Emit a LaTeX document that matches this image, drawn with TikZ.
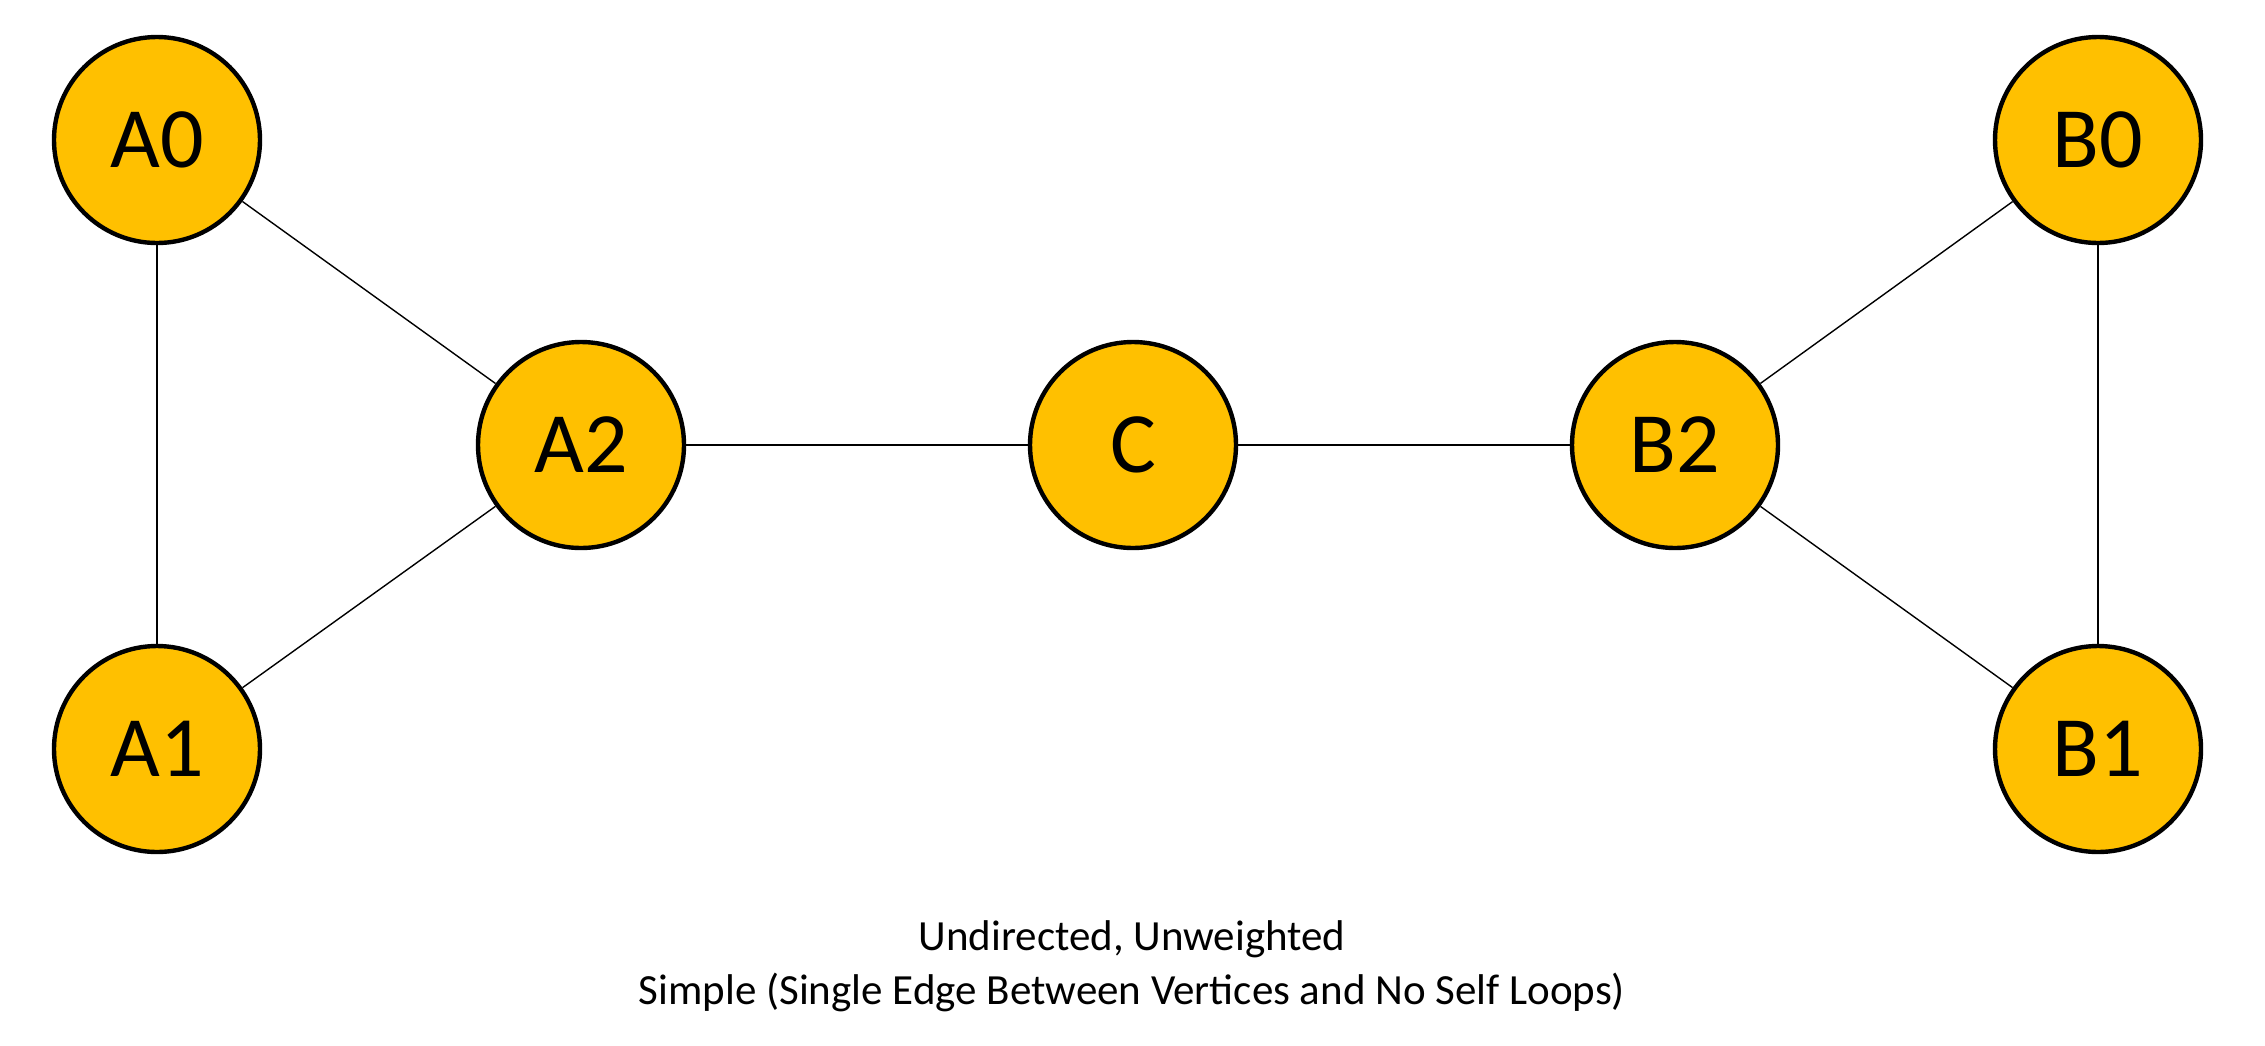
\documentclass[tikz,border=0pt]{standalone}
\usepackage{fontspec}
\setmainfont{Carlito}
\definecolor{gold}{HTML}{FFC000}
\begin{document}
\begin{tikzpicture}[x=0.5pt,y=-0.5pt,
  vertex/.style={circle,draw=black,fill=gold,line width=2.2pt,minimum size=103pt,inner sep=0pt,
    font=\fontsize{43pt}{50pt}\selectfont},
  edge/.style={line width=0.7pt,black},
  caption/.style={font=\fontsize{21.5pt}{27pt}\selectfont,align=center}]
\useasboundingbox (0,0) rectangle (2265,1045);
\node[vertex] (A0) at (157,140) {A0};
\node[vertex] (A1) at (157,749) {A1};
\node[vertex] (A2) at (581,445) {A2};
\node[vertex] (C) at (1133,445) {C};
\node[vertex] (B2) at (1675,445) {B2};
\node[vertex] (B0) at (2098,140) {B0};
\node[vertex] (B1) at (2098,749) {B1};
\draw[edge] (A0) -- (A1);
\draw[edge] (A0) -- (A2);
\draw[edge] (A1) -- (A2);
\draw[edge] (A2) -- (C);
\draw[edge] (C) -- (B2);
\draw[edge] (B2) -- (B0);
\draw[edge] (B2) -- (B1);
\draw[edge] (B0) -- (B1);
\node[caption] (cap) at (1132,966) {Undirected, Unweighted\\Simple (Single Edge Between Vertices and No Self Loops)};
\end{tikzpicture}
\end{document}
